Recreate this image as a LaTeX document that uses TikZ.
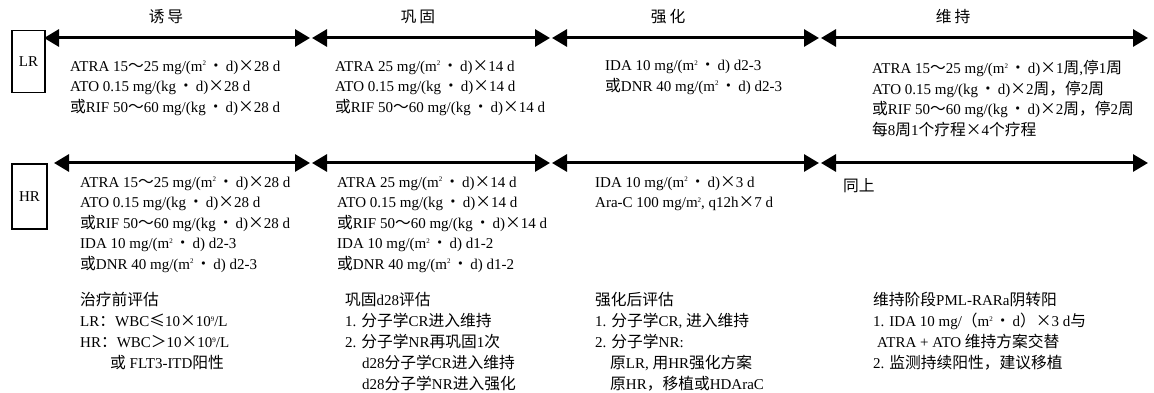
\documentclass[tikz,border=0pt]{standalone}
\usepackage{fontspec}
\setmainfont{Liberation Serif}
\newfontfamily\cjk[Scale=1.05]{Noto Sans CJK SC}
\newcommand\z[1]{{\cjk #1}}
\newcommand\msq{\raisebox{5.5pt}{\fontsize{7}{7}\selectfont 2}}
\newcommand\dt{\hspace{2pt}\z{•}\hspace{2pt}}
\usetikzlibrary{arrows.meta}
\begin{document}
\begin{tikzpicture}[x=1pt,y=-1pt,
  seg/.style={line width=3pt,{Triangle[length=15pt,width=17pt]}-{Triangle[length=15pt,width=17pt]}},
  riskbox/.style={draw,line width=1.8pt,inner sep=0pt,font=\fontsize{15}{18}\selectfont},
  ttl/.style={inner sep=0pt,anchor=base,font=\fontsize{15}{18}\selectfont},
  txt/.style={anchor=north west,inner sep=0pt,align=left,
    font=\fontsize{15}{20.5}\selectfont,execute at begin node={\rule{0pt}{15pt}}},
  txtb/.style={txt,font=\fontsize{15}{21}\selectfont}]
\useasboundingbox (0,0) rectangle (1154,393);
% titles
\node[ttl] (t1) at (166,23) {\z{诱\hspace{3pt}导}};
\node[ttl] (t2) at (418,23) {\z{巩\hspace{3pt}固}};
\node[ttl] (t3) at (668,23) {\z{强\hspace{3pt}化}};
\node[ttl] (t4) at (953,23) {\z{维\hspace{3pt}持}};
% risk boxes
\node[riskbox,minimum width=33pt,minimum height=62pt] (LR) at (28.5,61.5) {LR};
\node[riskbox,minimum width=35pt,minimum height=65pt] (HR) at (29.5,196.5) {HR};
% arrow end points
\coordinate (L0) at (44,38);
\coordinate (L1a) at (310,38); \coordinate (L1b) at (312,38);
\coordinate (L2a) at (550,38); \coordinate (L2b) at (552,38);
\coordinate (L3a) at (819,38); \coordinate (L3b) at (821,38);
\coordinate (L4) at (1148,38);
\coordinate (H0) at (54,163);
\coordinate (H1a) at (310,163); \coordinate (H1b) at (312,163);
\coordinate (H2a) at (550,163); \coordinate (H2b) at (552,163);
\coordinate (H3a) at (819,163); \coordinate (H3b) at (821,163);
\coordinate (H4) at (1148,163);
\draw[seg] (L0) -- (L1a);
\draw[seg] (L1b) -- (L2a);
\draw[seg] (L2b) -- (L3a);
\draw[seg] (L3b) -- (L4);
\draw[seg] (H0) -- (H1a);
\draw[seg] (H1b) -- (H2a);
\draw[seg] (H2b) -- (H3a);
\draw[seg] (H3b) -- (H4);
% LR regimens
\node[txt] (lr1) at (70,60) {ATRA 15\z{～}25 mg/(m\msq\dt d)\z{×}28 d\\
ATO 0.15 mg/(kg\dt d)\z{×}28 d\\
\z{或}RIF 50\z{～}60 mg/(kg\dt d)\z{×}28 d};
\node[txt] (lr2) at (335,60) {ATRA 25 mg/(m\msq\dt d)\z{×}14 d\\
ATO 0.15 mg/(kg\dt d)\z{×}14 d\\
\z{或}RIF 50\z{～}60 mg/(kg\dt d)\z{×}14 d};
\node[txt] (lr3) at (605,60) {IDA 10 mg/(m\msq\dt d) d2-3\\
\z{或}DNR 40 mg/(m\msq\dt d) d2-3};
\node[txt] (lr4) at (872,60) {ATRA 15\z{～}25 mg/(m\msq\dt d)\z{×}1\z{周},\z{停}1\z{周}\\
ATO 0.15 mg/(kg\dt d)\z{×}2\z{周，停}2\z{周}\\
\z{或}RIF 50\z{～}60 mg/(kg\dt d)\z{×}2\z{周，停}2\z{周}\\
\z{每}8\z{周}1\z{个疗程×}4\z{个疗程}};
% HR regimens
\node[txt] (hr1) at (80,176) {ATRA 15\z{～}25 mg/(m\msq\dt d)\z{×}28 d\\
ATO 0.15 mg/(kg\dt d)\z{×}28 d\\
\z{或}RIF 50\z{～}60 mg/(kg\dt d)\z{×}28 d\\
IDA 10 mg/(m\msq\dt d) d2-3\\
\z{或}DNR 40 mg/(m\msq\dt d) d2-3};
\node[txt] (hr2) at (337,176) {ATRA 25 mg/(m\msq\dt d)\z{×}14 d\\
ATO 0.15 mg/(kg\dt d)\z{×}14 d\\
\z{或}RIF 50\z{～}60 mg/(kg\dt d)\z{×}14 d\\
IDA 10 mg/(m\msq\dt d) d1-2\\
\z{或}DNR 40 mg/(m\msq\dt d) d1-2};
\node[txt] (hr3) at (595,176) {IDA 10 mg/(m\msq\dt d)\z{×}3 d\\
Ara-C 100 mg/m\msq, q12h\z{×}7 d};
\node[txt] (hr4) at (843,176) {\z{同上}};
% assessments
\node[txtb] (a1) at (80,292) {\z{治疗前评估}\\
LR\z{：}WBC\z{≤}10\z{×}10\raisebox{5.5pt}{\fontsize{7}{7}\selectfont 9}/L\\
HR\z{：}WBC\z{＞}10\z{×}10\raisebox{5.5pt}{\fontsize{7}{7}\selectfont 9}/L\\
\hspace*{30pt}\z{或} FLT3-ITD\z{阳性}};
\node[txtb] (a2) at (345,292) {\z{巩固}d28\z{评估}\\
1. \z{分子学}CR\z{进入维持}\\
2. \z{分子学}NR\z{再巩固}1\z{次}\\
\hspace*{17pt}d28\z{分子学}CR\z{进入维持}\\
\hspace*{17pt}d28\z{分子学}NR\z{进入强化}};
\node[txtb] (a3) at (595,292) {\z{强化后评估}\\
1. \z{分子学}CR, \z{进入维持}\\
2. \z{分子学}NR:\\
\hspace*{15pt}\z{原}LR, \z{用}HR\z{强化方案}\\
\hspace*{15pt}\z{原}HR\z{，移植或}HDAraC};
\node[txtb] (a4) at (873,292) {\z{维持阶段}PML-RARa\z{阴转阳}\\
1. IDA 10 mg/\z{（}m\msq\dt d\z{）×}3 d\z{与}\\
\hspace*{4pt}ATRA + ATO \z{维持方案交替}\\
2. \z{监测持续阳性，建议移植}};
\end{tikzpicture}
\end{document}
